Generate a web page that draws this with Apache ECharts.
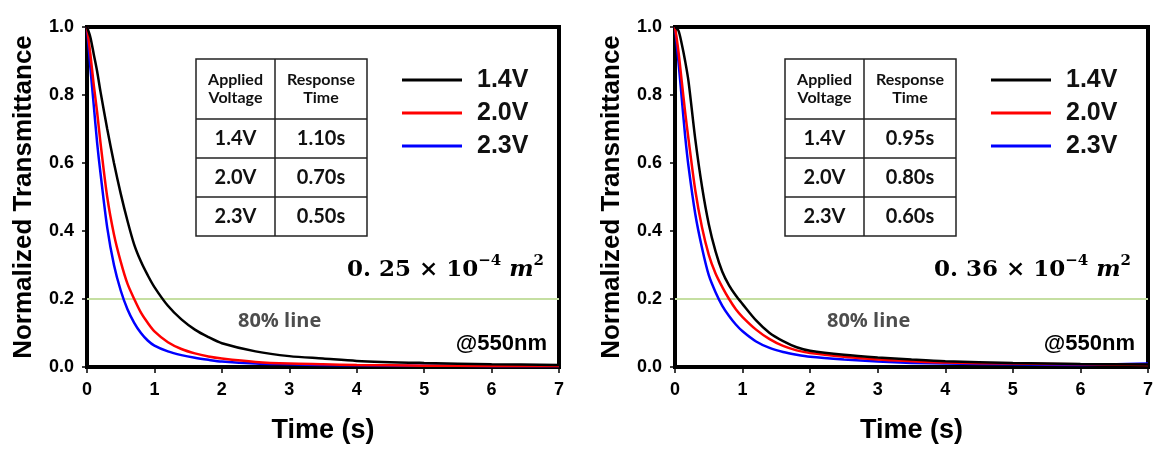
<!DOCTYPE html>
<html><head><meta charset="utf-8">
<script src="https://cdn.jsdelivr.net/npm/echarts@6/dist/echarts.min.js"></script>
<style>html,body{margin:0;padding:0;background:#fff}#c{width:1173px;height:455px}</style>
</head><body><div id="c"></div>
<script>
// ---- data ----
const times = [0,0.05,0.1,0.15,0.2,0.3,0.4,0.5,0.6,0.7,0.8,0.9,1.0,1.2,1.4,1.6,1.8,2.0,2.5,3.0,3.5,4,5,6,7];
const seriesNames = ['1.4V','2.0V','2.3V'];
const left14 = [1.0,0.97,0.92,0.87,0.81,0.70,0.60,0.51,0.43,0.36,0.31,0.27,0.235,0.18,0.14,0.11,0.088,0.07,0.046,0.032,0.025,0.018,0.012,0.008,0.006];
const left20 = [1.0,0.92,0.83,0.75,0.66,0.50,0.39,0.31,0.245,0.20,0.16,0.13,0.105,0.073,0.053,0.04,0.031,0.025,0.015,0.010,0.008,0.006,0.004,0.003,0.003];
const left23 = [1.0,0.88,0.77,0.66,0.57,0.41,0.30,0.225,0.17,0.13,0.10,0.078,0.063,0.046,0.035,0.027,0.021,0.016,0.010,0.008,0.006,0.005,0.004,0.003,0.003];
const right14 = [1.0,0.99,0.95,0.90,0.84,0.67,0.53,0.42,0.34,0.28,0.24,0.21,0.185,0.137,0.10,0.076,0.058,0.048,0.036,0.028,0.022,0.017,0.012,0.009,0.007];
const right20 = [1.0,0.93,0.84,0.75,0.67,0.52,0.41,0.33,0.275,0.235,0.20,0.17,0.147,0.11,0.082,0.062,0.049,0.041,0.03,0.022,0.017,0.013,0.010,0.008,0.006];
const right23 = [1.0,0.90,0.79,0.68,0.59,0.45,0.35,0.27,0.22,0.18,0.15,0.125,0.105,0.075,0.056,0.044,0.036,0.03,0.022,0.016,0.012,0.010,0.008,0.006,0.010];
const xTicks = [0,1,2,3,4,5,6,7];
const yTicks = [0.0,0.2,0.4,0.6,0.8,1.0];
const line80 = 0.2;
const tableHeader = ['Applied\nVoltage','Response\nTime'];
const tableVoltages = ['1.4V','2.0V','2.3V'];
const respLeft = ['1.10s','0.70s','0.50s'];
const respRight = ['0.95s','0.80s','0.60s'];
const areaLeft = ['0. 25','−4','2'];
const areaRight = ['0. 36','−4','2'];
const colors = ['#000000','#ff0000','#0000ff'];

// ---- chart ----
const chart = echarts.init(document.getElementById('c'));
const grids = [{left:87, top:27, width:472, height:340}, {left:675, top:27, width:473, height:340}];
const pair = vals => times.map((t,i)=>[t, vals[i]]);
const sets = [[left14,left20,left23],[right14,right20,right23]];

const xAxes = grids.map((g,i)=>({
  type:'value', gridIndex:i, min:0, max:7, interval:1,
  name:'Time (s)', nameLocation:'middle', nameGap:50,
  nameTextStyle:{fontSize:27, fontWeight:'bold', fontFamily:'Liberation Sans', color:'#000'},
  axisLine:{show:false}, splitLine:{show:false},
  axisTick:{show:true, length:6, lineStyle:{color:'#000', width:1.5}},
  axisLabel:{margin:14, fontSize:18, fontWeight:'bold', fontFamily:'Liberation Sans', color:'#000',
    formatter:v=> xTicks.includes(v) ? String(v) : ''}
}));
const yAxes = grids.map((g,i)=>({
  type:'value', gridIndex:i, min:0, max:1, interval:0.2,
  name:'Normalized Transmittance', nameLocation:'middle', nameGap:50,
  nameTextStyle:{fontSize:26, fontWeight:'bold', fontFamily:'Liberation Sans', color:'#000'},
  axisLine:{show:false}, splitLine:{show:false},
  axisTick:{show:true, length:5, lineStyle:{color:'#000', width:1.5}},
  axisLabel:{margin:13, fontSize:18, fontWeight:'bold', fontFamily:'Liberation Sans', color:'#000',
    formatter:v=> yTicks.some(t=>Math.abs(t-v)<1e-9) ? v.toFixed(1) : ''}
}));

const series = [];
sets.forEach((set,gi)=>{
  set.forEach((vals,si)=>{
    const s = {
      type:'line', name:seriesNames[si], xAxisIndex:gi, yAxisIndex:gi,
      data:pair(vals), showSymbol:false, smooth:0.3, z:3-si+2,
      lineStyle:{color:colors[si], width:2.5}, itemStyle:{color:colors[si]}
    };
    if(si===0){
      s.markLine = {silent:true, symbol:'none', label:{show:false}, z:1,
        lineStyle:{color:'#c5dfa2', width:2, type:'solid'}, data:[{yAxis:line80}]};
    }
    series.push(s);
  });
});

const legendBase = {orient:'vertical', icon:'rect', itemWidth:60, itemHeight:3, itemGap:7,
  data:seriesNames, selectedMode:false,
  textStyle:{fontSize:25, lineHeight:26, fontWeight:'bold', fontFamily:'Liberation Sans', color:'#111', padding:[0,0,0,10]}};
const legends = [Object.assign({}, legendBase, {left:397, top:62}), Object.assign({}, legendBase, {left:986, top:62})];

function table(x0, y0, resp){
  const cw=[79,92], rh=[60,39,39,39];
  const W=cw[0]+cw[1], H=rh.reduce((a,b)=>a+b,0);
  const els=[{type:'rect', shape:{x:x0,y:y0,width:W,height:H}, style:{fill:'#fff', stroke:'#222', lineWidth:1.5}, z:10}];
  els.push({type:'line', shape:{x1:x0+cw[0],y1:y0,x2:x0+cw[0],y2:y0+H}, style:{stroke:'#222', lineWidth:1.5}, z:11});
  let y=y0;
  for(let r=0;r<rh.length;r++){
    if(r>0) els.push({type:'line', shape:{x1:x0,y1:y,x2:x0+W,y2:y}, style:{stroke:'#222', lineWidth:1.5}, z:11});
    const cells = r===0 ? tableHeader : [tableVoltages[r-1], resp[r-1]];
    cells.forEach((txt,c)=>{
      const cx = x0 + (c===0 ? cw[0]/2 : cw[0]+cw[1]/2);
      els.push({type:'text', x:cx, y:y+rh[r]/2, z:12, style:{text:txt, align:'center', verticalAlign:'middle',
        font: r===0 ? 'bold 16px Lato' : 'bold 20px Lato', lineHeight: 18, fill:'#111'}});
    });
    y+=rh[r];
  }
  return els;
}
function area(xr, yc, parts){
  return {type:'text', x:xr, y:yc, z:12, style:{
    text:'{n|'+parts[0]+' × 10}{s|'+parts[1]+'}{n| }{i|m}{s|'+parts[2]+'}',
    align:'right', verticalAlign:'middle',
    rich:{
      n:{fontSize:23, fontWeight:'bold', fontFamily:'DejaVu Serif', fill:'#000', lineHeight:28, verticalAlign:'bottom'},
      i:{fontSize:23, fontWeight:'bold', fontStyle:'italic', fontFamily:'DejaVu Serif', fill:'#000', lineHeight:28, verticalAlign:'bottom'},
      s:{fontSize:15, fontWeight:'bold', fontFamily:'DejaVu Serif', fill:'#000', lineHeight:28, verticalAlign:'top'}
    }}};
}
function label80(x, y){
  return {type:'text', x:x, y:y, z:12, style:{text:'80% line', align:'left', verticalAlign:'middle', font:'bold 20px "Open Sans"', fill:'#4d4d4d'}};
}
function nm(xr, y){
  return {type:'text', x:xr, y:y, z:12, style:{text:'@550nm', align:'right', verticalAlign:'middle', font:'bold 22px "Liberation Sans"', fill:'#000'}};
}

const graphic = [].concat(
  table(196, 59, respLeft), table(785, 59, respRight),
  [area(544, 268, areaLeft), area(1131, 268, areaRight),
   label80(238, 321), label80(827, 321), nm(547, 344), nm(1135, 344)]
);

chart.setOption({
  backgroundColor:'#fff',
  animation:false,
  grid: grids.map(g=>Object.assign({show:true, borderColor:'#000', borderWidth:4, backgroundColor:'transparent', containLabel:false}, g)),
  xAxis:xAxes, yAxis:yAxes, series:series, legend:legends, graphic:graphic
});
</script></body></html>
